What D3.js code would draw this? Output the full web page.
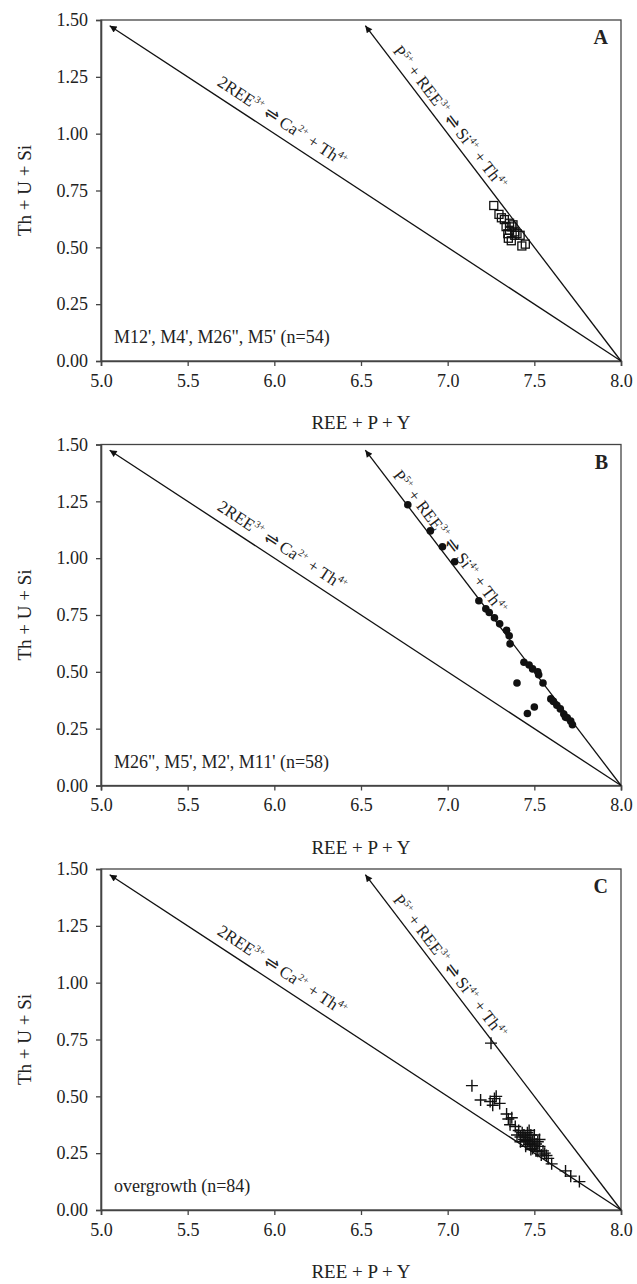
<!DOCTYPE html>
<html><head><meta charset="utf-8">
<script src="https://cdn.jsdelivr.net/npm/d3@7"></script>
<style>
html,body{margin:0;padding:0;background:#fff;}
svg{display:block;}
text{font-family:"Liberation Serif","Times New Roman",serif;fill:#222;}
</style></head>
<body>
<script>
// ---------- data ----------
const panelLetters = ["A", "B", "C"];
const panelNotes = ["M12', M4', M26\", M5' (n=54)", "M26\", M5', M2', M11' (n=58)", "overgrowth (n=84)"];
const xTicks = [5.0, 5.5, 6.0, 6.5, 7.0, 7.5, 8.0];
const yTicks = [0.00, 0.25, 0.50, 0.75, 1.00, 1.25, 1.50];
const xTitle = "REE + P + Y";
const yTitle = "Th + U + Si";
// exchange vectors: origin (8,0) -> arrow tip
const vecCaTh = [[8, 0], [5.05, 1.475]];   // 2REE3+ <=> Ca2+ + Th4+
const vecSiTh = [[8, 0], [6.525, 1.475]];  // P5+ + REE3+ <=> Si4+ + Th4+
const labelCaTh = [["2REE", 0], ["3+", 1], [" \u21CC Ca", 0], ["2+", 1], [" + Th", 0], ["4+", 1]];
const labelSiTh = [["P", 0], ["5+", 1], [" + REE", 0], ["3+", 1], [" \u21CC Si", 0], ["4+", 1], [" + Th", 0], ["4+", 1]];
const labelCaThAt = 6.0;   // x position along vector
const labelSiThAt = 6.96;

const pointsA = [
  [7.266,0.684],[7.296,0.645],[7.327,0.622],[7.357,0.606],[7.377,0.599],[7.337,0.591],
  [7.357,0.575],[7.387,0.568],[7.347,0.560],[7.387,0.553],[7.418,0.553],[7.367,0.529],
  [7.428,0.506],[7.448,0.514],[7.31,0.63],[7.37,0.59],[7.40,0.56],[7.35,0.54]
];
const pointsB = [
  [6.77,1.235],[6.90,1.12],[6.97,1.05],[7.04,0.984],[7.18,0.813],[7.22,0.777],[7.24,0.761],
  [7.27,0.738],[7.30,0.711],[7.34,0.683],[7.355,0.659],[7.36,0.623],[7.44,0.542],[7.49,0.513],
  [7.525,0.487],[7.55,0.451],[7.40,0.451],[7.595,0.381],[7.63,0.353],[7.65,0.337],[7.67,0.314],
  [7.69,0.298],[7.71,0.283],[7.72,0.267],[7.50,0.345],[7.46,0.317],[7.47,0.53],[7.52,0.50],
  [7.61,0.37],[7.68,0.30]
];
const pointsC = [
  [7.25,0.734],[7.14,0.547],[7.19,0.484],[7.245,0.477],[7.27,0.49],[7.30,0.469],[7.26,0.461],[7.28,0.50],
  [7.34,0.422],[7.37,0.406],[7.36,0.375],[7.39,0.367],[7.35,0.40],
  [7.42,0.321],[7.45,0.305],[7.47,0.289],[7.50,0.282],[7.48,0.266],[7.52,0.258],[7.54,0.242],
  [7.58,0.227],[7.60,0.203],[7.68,0.172],[7.71,0.149],[7.76,0.125],
  [7.43,0.34],[7.44,0.33],[7.45,0.32],[7.46,0.34],[7.47,0.31],[7.48,0.33],[7.49,0.30],[7.50,0.31],
  [7.51,0.29],[7.52,0.30],[7.53,0.28],[7.46,0.30],[7.44,0.31],[7.49,0.27],[7.51,0.26],[7.55,0.26],
  [7.56,0.25],[7.47,0.35],[7.50,0.33],[7.42,0.30],[7.45,0.28],[7.53,0.31],[7.48,0.29],[7.57,0.24],
  [7.40,0.33],[7.41,0.35]
];
const panelPoints = [pointsA, pointsB, pointsC];

// ---------- layout ----------
const W = 637, H = 1284;
const plotLeft = 101, plotRight = 621, plotH = 341;
const panelTops = [20, 444.5, 869];

const svg = d3.select("body").append("svg").attr("width", W).attr("height", H);
const defs = svg.append("defs");
defs.append("marker").attr("id", "arrow").attr("viewBox", "0 0 10 10")
  .attr("refX", 10).attr("refY", 5).attr("markerWidth", 12).attr("markerHeight", 7)
  .attr("markerUnits", "userSpaceOnUse").attr("orient", "auto")
  .append("path").attr("d", "M0,0 L10,5 L0,10 Z").attr("fill", "#111");

const x = d3.scaleLinear().domain([5, 8]).range([plotLeft, plotRight]);

function drawLabel(g, y, vec, parts, atX, off) {
  const [[x0, y0], [x1, y1]] = vec;
  const slope = (y1 - y0) / (x1 - x0);
  const ly = y0 + slope * (atX - x0);
  const px = x(atX), py = y(ly);
  const ang = Math.atan2(y(y0) - y(y1), x(x0) - x(x1)) * 180 / Math.PI;
  const t = g.append("text").attr("transform", `translate(${px},${py}) rotate(${ang})`)
    .attr("text-anchor", "middle").attr("y", -off).attr("font-size", 17);
  let prevSup = false;
  parts.forEach(([s, sup]) => {
    const ts = t.append("tspan").text(s);
    if (sup) { ts.attr("font-size", 10).attr("dy", prevSup ? 0 : -7); }
    else { ts.attr("dy", prevSup ? 7 : 0); }
    prevSup = !!sup;
  });
}

panelTops.forEach((top, i) => {
  const bottom = top + plotH;
  const y = d3.scaleLinear().domain([0, 1.5]).range([bottom, top]);
  const g = svg.append("g");

  // frame
  g.append("rect").attr("x", plotLeft).attr("y", top).attr("width", plotRight - plotLeft)
    .attr("height", plotH).attr("fill", "none").attr("stroke", "#444").attr("stroke-width", 1.3);

  // axes
  const xa = g.append("g").attr("transform", `translate(0,${bottom})`)
    .call(d3.axisBottom(x).tickValues(xTicks).tickFormat(d3.format(".1f")).tickSize(5).tickPadding(8));
  const ya = g.append("g").attr("transform", `translate(${plotLeft},0)`)
    .call(d3.axisLeft(y).tickValues(yTicks).tickFormat(d3.format(".2f")).tickSize(5).tickPadding(8));
  [xa, ya].forEach(a => {
    a.select(".domain").attr("stroke", "#444").attr("stroke-width", 1.6);
    a.selectAll(".tick line").attr("stroke", "#444").attr("stroke-width", 1.3);
    a.selectAll(".tick text").attr("font-size", 18).attr("fill", "#222")
      .attr("font-family", "Liberation Serif, serif");
  });

  // axis titles
  g.append("text").attr("x", (plotLeft + plotRight) / 2).attr("y", bottom + 68)
    .attr("text-anchor", "middle").attr("font-size", 19).text(xTitle);
  g.append("text").attr("transform", `translate(31,${(top + bottom) / 2}) rotate(-90)`)
    .attr("text-anchor", "middle").attr("font-size", 19).text(yTitle);

  // exchange vectors
  g.append("g").selectAll("line").data([vecCaTh, vecSiTh]).join("line")
    .attr("x1", d => x(d[0][0])).attr("y1", d => y(d[0][1]))
    .attr("x2", d => x(d[1][0])).attr("y2", d => y(d[1][1]))
    .attr("stroke", "#111").attr("stroke-width", 1.3).attr("marker-end", "url(#arrow)");

  drawLabel(g, y, vecCaTh, labelCaTh, labelCaThAt, 9);
  drawLabel(g, y, vecSiTh, labelSiTh, labelSiThAt, 6);

  // points
  const pts = panelPoints[i];
  if (i === 0) {
    g.append("g").selectAll("rect").data(pts).join("rect")
      .attr("x", d => x(d[0]) - 4).attr("y", d => y(d[1]) - 4)
      .attr("width", 8).attr("height", 8)
      .attr("fill", "none").attr("stroke", "#111").attr("stroke-width", 1.3);
  } else if (i === 1) {
    g.append("g").selectAll("circle").data(pts).join("circle")
      .attr("cx", d => x(d[0])).attr("cy", d => y(d[1])).attr("r", 3.8).attr("fill", "#111");
  } else {
    g.append("g").selectAll("path").data(pts).join("path")
      .attr("d", d => {
        const cx = x(d[0]), cy = y(d[1]), s = 6;
        return `M${cx - s},${cy}H${cx + s}M${cx},${cy - s}V${cy + s}`;
      })
      .attr("stroke", "#111").attr("stroke-width", 1.4).attr("fill", "none");
  }

  // panel letter and note
  g.append("text").attr("x", 608).attr("y", top + 24).attr("text-anchor", "end")
    .attr("font-size", 20).attr("font-weight", "bold").text(panelLetters[i]);
  g.append("text").attr("x", 114).attr("y", bottom - 18).attr("font-size", 18).text(panelNotes[i]);
});
</script>
</body></html>
